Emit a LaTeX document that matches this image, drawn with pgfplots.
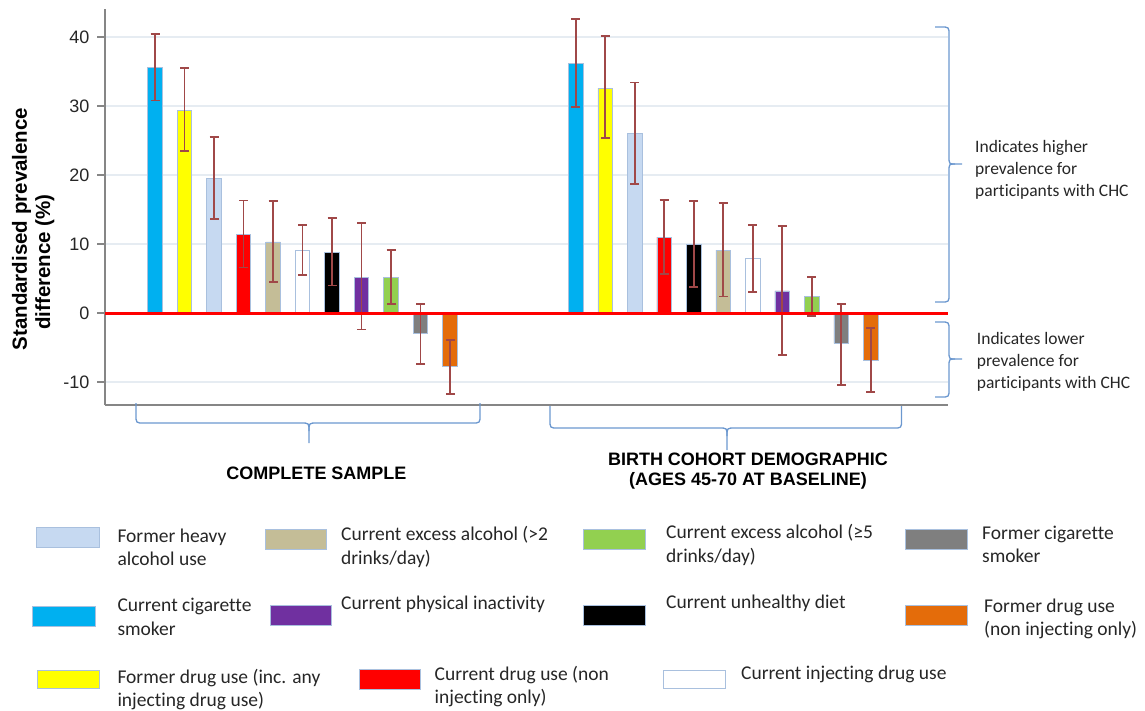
\documentclass[border=0pt]{standalone}
\usepackage{pgfplots}
\pgfplotsset{compat=1.18}
\usepackage{fontspec}
\setmainfont{Liberation Sans}
\newfontfamily\carlito[Ligatures=NoCommon]{Carlito}
\definecolor{cblue}{HTML}{00B0F0}
\definecolor{cyellow}{HTML}{FFFF00}
\definecolor{clblue}{HTML}{C6D9F1}
\definecolor{cred}{HTML}{FF0000}
\definecolor{ctan}{HTML}{C4BD97}
\definecolor{cwhite}{HTML}{FFFFFF}
\definecolor{cblack}{HTML}{000000}
\definecolor{cpurple}{HTML}{7030A0}
\definecolor{cgreen}{HTML}{92D050}
\definecolor{cgray}{HTML}{7F7F7F}
\definecolor{corange}{HTML}{E46C0A}
\definecolor{errc}{HTML}{A04848}
\definecolor{bordc}{HTML}{A9C0DE}
\definecolor{axisgray}{HTML}{868686}
\definecolor{gridc}{HTML}{E6ECF2}
\definecolor{bracec}{HTML}{6C98CF}
\pgfplotsset{
  mybar/.style={fill=#1, draw=bordc, line width=0.6pt, bar shift=0pt,
    error bars/.cd, y dir=both, y explicit,
    error bar style={draw=errc, line width=1.8pt},
    error mark options={draw=errc, line width=1.8pt, mark size=4.5pt, rotate=90}},
}
\begin{document}
\begin{tikzpicture}
\useasboundingbox (0,0) rectangle (1145pt,-710pt);
\begin{axis}[
  at={(105pt,-405pt)}, anchor=south west,
  scale only axis, width=843pt, height=395.6pt,
  xmin=-1.695, xmax=26.88, ymin=-13.33, ymax=44,
  ybar, bar width=14.5pt,
  xtick=\empty,
  ytick={-10,0,10,20,30,40},
  axis x line*=bottom, axis y line*=left,
  axis line style={draw=axisgray, line width=1.2pt, -},
  ymajorgrids, major grid style={draw=gridc, line width=1.2pt},
  tick align=outside, major tick length=8pt,
  tick style={draw=axisgray, line width=1.2pt},
  yticklabel style={font=\fontsize{18}{20}\selectfont, text=black!85, xshift=-4pt},
  /pgf/number format/assume math mode=true,
  clip=false,
]
% Current cigarette smoker
\addplot[mybar=cblue] coordinates {(0,35.6) += (0,4.8) -= (0,4.8) (14.26,36.2) += (0,6.4) -= (0,6.3)};
% Former drug use (inc. any injecting)
\addplot[mybar=cyellow] coordinates {(1,29.4) += (0,6.1) -= (0,5.9) (15.26,32.6) += (0,7.5) -= (0,7.2)};
% Former heavy alcohol use
\addplot[mybar=clblue] coordinates {(2,19.5) += (0,6.0) -= (0,5.9) (16.26,26.0) += (0,7.4) -= (0,7.3)};
% Current drug use (non injecting only)
\addplot[mybar=cred] coordinates {(3,11.4) += (0,4.9) -= (0,4.8) (17.26,11.0) += (0,5.4) -= (0,5.35)};
% Current excess alcohol (>2)
\addplot[mybar=ctan] coordinates {(4,10.3) += (0,5.9) -= (0,5.8) (19.26,9.1) += (0,6.9) -= (0,6.7)};
% Current injecting drug use
\addplot[mybar=cwhite] coordinates {(5,9.1) += (0,3.65) -= (0,3.6) (20.26,8.0) += (0,4.7) -= (0,4.9)};
% Current unhealthy diet
\addplot[mybar=cblack] coordinates {(6,8.8) += (0,5.0) -= (0,4.8) (18.26,10.0) += (0,6.2) -= (0,6.2)};
% Current physical inactivity
\addplot[mybar=cpurple] coordinates {(7,5.2) += (0,7.8) -= (0,7.6) (21.26,3.2) += (0,9.4) -= (0,9.3)};
% Current excess alcohol (>=5)
\addplot[mybar=cgreen] coordinates {(8,5.2) += (0,3.9) -= (0,3.9) (22.26,2.4) += (0,2.8) -= (0,2.8)};
% Former cigarette smoker
\addplot[mybar=cgray] coordinates {(9,-3.0) += (0,4.3) -= (0,4.4) (23.26,-4.4) += (0,5.7) -= (0,6.0)};
% Former drug use (non injecting only)
\addplot[mybar=corange] coordinates {(10,-7.7) += (0,3.8) -= (0,4.0) (24.26,-6.8) += (0,4.6) -= (0,4.7)};
% zero line
\addplot[sharp plot, draw=cred, line width=3pt, mark=none, forget plot] coordinates {(-1.695,0) (26.88,0)};
\end{axis}
\begin{scope}[x=1pt, y=-1pt]
% y label
\node[rotate=90, anchor=base, font=\bfseries\fontsize{20.5}{24}\selectfont] at (27,229) {Standardised prevalence};
\node[rotate=90, anchor=base, font=\bfseries\fontsize{20.5}{24}\selectfont] at (50,262) {difference (\%)};
% bottom braces
\draw[bracec, line width=1.3pt] (136,403) -- (136,415) .. controls (136,423) .. (144,423) -- (301,423) .. controls (309,423) .. (309,431) -- (309,443);
\draw[bracec, line width=1.3pt] (480,403) -- (480,415) .. controls (480,423) .. (472,423) -- (317,423) .. controls (309,423) .. (309,431);
\draw[bracec, line width=1.3pt] (550,406) -- (550,420) .. controls (550,428) .. (558,428) -- (719,428) .. controls (727,428) .. (727,436) -- (727,450);
\draw[bracec, line width=1.3pt] (901.5,406) -- (901.5,420) .. controls (901.5,428) .. (893.5,428) -- (735,428) .. controls (727,428) .. (727,436);
% right braces
\draw[bracec, line width=1.3pt] (935,27) -- (941,27) .. controls (949,27) .. (949,35) -- (949,156) .. controls (949,164) .. (955,164) -- (962,164);
\draw[bracec, line width=1.3pt] (935,302) -- (941,302) .. controls (949,302) .. (949,294) -- (949,172) .. controls (949,164) .. (955,164);
\draw[bracec, line width=1.3pt] (935,322) -- (941,322) .. controls (949,322) .. (949,330) -- (949,351) .. controls (949,359) .. (955,359) -- (962,359);
\draw[bracec, line width=1.3pt] (935,397) -- (941,397) .. controls (949,397) .. (949,389) -- (949,367) .. controls (949,359) .. (955,359);
% group labels
\begin{scope}[every node/.style={anchor=base, inner sep=0pt, font=\bfseries\fontsize{18}{20}\selectfont}]
\node at (316.5,479) {COMPLETE SAMPLE};
\node at (748,465.7) {BIRTH COHORT DEMOGRAPHIC};
\node at (748,485.7) {(AGES 45-70 AT BASELINE)};
\end{scope}
% annotations
\begin{scope}[every node/.style={anchor=base west, inner sep=0pt, font=\carlito\fontsize{17.5}{21}\selectfont, text=black!85}]
\node at (975,152) {Indicates higher};
\node at (975,174.3) {prevalence for};
\node at (975,196.6) {participants with CHC};
\node at (976.7,344.3) {Indicates lower};
\node at (976.7,366.5) {prevalence for};
\node at (976.7,388.7) {participants with CHC};
\end{scope}
% legend
\begin{scope}[every node/.style={anchor=base west, inner sep=0pt, font=\carlito\fontsize{19.5}{23}\selectfont, text=black!85}]
\filldraw[fill=clblue, draw=bordc, line width=0.8pt] (36.7,527.3) rectangle (99,547.3);
\node at (117.3,542.3) {Former heavy};
\node at (117.3,565.7) {alcohol use};
\filldraw[fill=ctan, draw=bordc, line width=0.8pt] (265,529) rectangle (326,549);
\node at (341,540.5) {Current excess alcohol (>2};
\node at (341,564) {drinks/day)};
\filldraw[fill=cgreen, draw=bordc, line width=0.8pt] (583,529) rectangle (645,549);
\node at (666,538.5) {Current excess alcohol (≥5};
\node at (666,562) {drinks/day)};
\filldraw[fill=cgray, draw=bordc, line width=0.8pt] (905,529) rectangle (967,549);
\node at (982,539) {Former cigarette};
\node at (982,562.7) {smoker};
\filldraw[fill=cblue, draw=bordc, line width=0.8pt] (32.7,606.7) rectangle (95,626);
\node at (117.3,611) {Current cigarette};
\node at (117.3,635) {smoker};
\filldraw[fill=cpurple, draw=bordc, line width=0.8pt] (270,605.7) rectangle (331,625);
\node at (341,609) {Current physical inactivity};
\filldraw[fill=cblack, draw=bordc, line width=0.8pt] (583,605.7) rectangle (645,625);
\node at (666,608) {Current unhealthy diet};
\filldraw[fill=corange, draw=bordc, line width=0.8pt] (905,605.7) rectangle (967,625);
\node at (984,612.3) {Former drug use};
\node at (984,635.7) {(non injecting only)};
\filldraw[fill=cyellow, draw=bordc, line width=0.8pt] (37.3,670) rectangle (99.3,688);
\node at (117.3,683.3) {Former drug use (inc. any};
\node at (117.3,706.7) {injecting drug use)};
\filldraw[fill=cred, draw=bordc, line width=0.8pt] (359,669) rectangle (420,689);
\node at (434.5,680) {Current drug use (non};
\node at (434.5,703.5) {injecting only)};
\filldraw[fill=cwhite, draw=bordc, line width=0.8pt] (663.4,670) rectangle (725,688.7);
\node at (741,679) {Current injecting drug use};
\end{scope}
\end{scope}
\end{tikzpicture}
\end{document}
